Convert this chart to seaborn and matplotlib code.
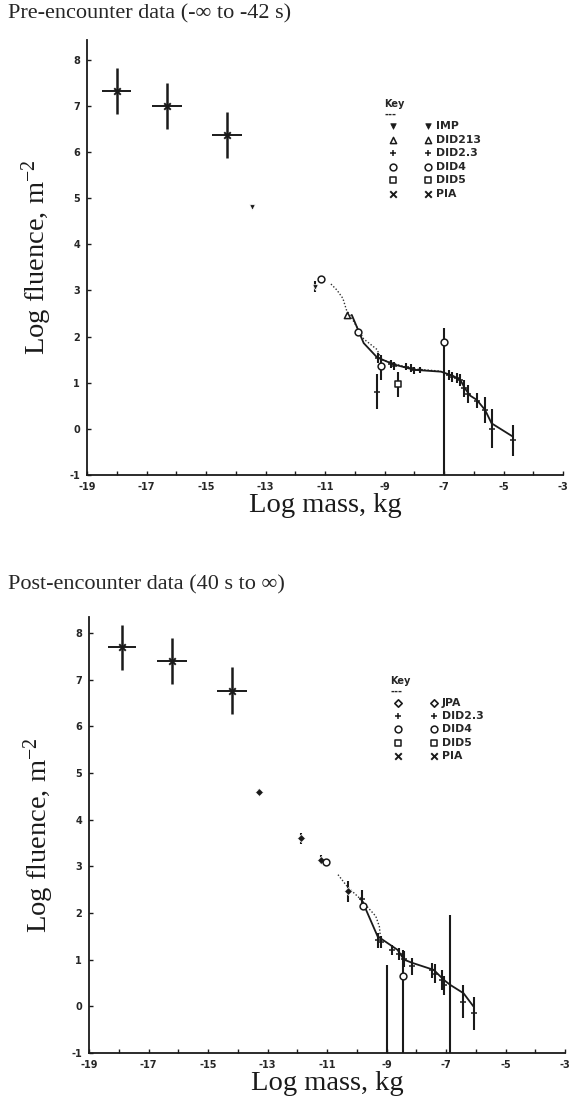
import matplotlib
matplotlib.use("Agg")
import matplotlib.pyplot as plt
import seaborn as sns

# ---------------- Pre-encounter data (top panel) ----------------
pre_pia_x = [-18.0, -16.3, -14.3]
pre_pia_y = [7.33, 7.00, 6.38]
pre_pia_xerr = [0.48, 0.50, 0.50]
pre_pia_yerr = [0.50, 0.50, 0.50]

pre_imp_x = [-13.45, -11.32]
pre_imp_y = [4.81, 3.08]
pre_imp_err = [0.0, 0.12]

pre_did213_x = [-10.25]
pre_did213_y = [2.47]

pre_did23_x = [-9.25, -9.23, -8.79, -8.68, -8.29, -8.12, -8.01, -7.79, -6.84,
               -6.73, -6.57, -6.46, -6.34, -6.18, -5.90, -5.62, -5.40, -4.68]
pre_did23_y = [0.80, 1.53, 1.40, 1.37, 1.35, 1.32, 1.27, 1.28, 1.17,
               1.13, 1.10, 1.05, 0.88, 0.75, 0.61, 0.41, 0.00, -0.25]
pre_did23_err = [0.38, 0.11, 0.09, 0.09, 0.07, 0.08, 0.08, 0.07, 0.11,
                 0.11, 0.11, 0.13, 0.18, 0.20, 0.16, 0.29, 0.42, 0.33]

pre_did4_x = [-11.12, -9.90, -9.12, -7.00]
pre_did4_y = [3.25, 2.10, 1.37, 1.89]
pre_did4_lo = [3.25, 2.10, 1.06, -1.0]
pre_did4_hi = [3.25, 2.10, 1.60, 2.18]

pre_did5_x = [-8.56]
pre_did5_y = [0.97]
pre_did5_err = [0.27]

pre_solid_x = [-10.10, -9.70, -9.25, -8.70, -8.00, -7.10, -6.70, -6.45,
               -6.30, -6.12, -5.90, -5.62, -5.40, -4.68]
pre_solid_y = [2.47, 1.86, 1.55, 1.40, 1.28, 1.24, 1.15, 1.06,
               0.88, 0.72, 0.63, 0.41, 0.12, -0.17]

pre_dot_x = [-10.80, -10.60, -10.40, -10.28, -10.10, -9.70, -9.25, -9.10,
             -8.50, -8.00, -7.10]
pre_dot_y = [3.14, 3.01, 2.83, 2.58, 2.40, 1.95, 1.72, 1.50,
             1.38, 1.30, 1.25]

# ---------------- Post-encounter data (bottom panel) ----------------
post_pia_x = [-17.9, -16.2, -14.2]
post_pia_y = [7.69, 7.39, 6.76]
post_pia_xerr = [0.47, 0.50, 0.50]
post_pia_yerr = [0.48, 0.49, 0.50]

post_jpa_x = [-13.3, -11.88, -11.20, -10.30]
post_jpa_y = [4.60, 3.60, 3.14, 2.46]
post_jpa_err = [0.06, 0.12, 0.10, 0.23]

post_did23_x = [-9.83, -9.30, -9.19, -8.80, -8.58, -8.41, -8.13, -7.47,
                -7.36, -7.13, -7.08, -6.43, -6.06]
post_did23_y = [2.30, 1.41, 1.38, 1.21, 1.13, 1.02, 0.86, 0.77,
                0.70, 0.57, 0.45, 0.10, -0.15]
post_did23_err = [0.20, 0.16, 0.13, 0.11, 0.13, 0.17, 0.18, 0.16,
                  0.20, 0.21, 0.20, 0.36, 0.36]

post_did4_x = [-11.02, -9.80, -8.43]
post_did4_y = [3.10, 2.14, 0.65]
post_did4_lo = [3.10, 2.14, -1.0]
post_did4_hi = [3.10, 2.14, 1.21]

# upper bounds with no lower limit
post_lim_x = [-9.00, -6.86]
post_lim_hi = [0.89, 1.96]
post_lim_lo = [-1.0, -1.0]

post_solid_x = [-9.86, -9.30, -8.63, -8.41, -8.13, -7.41, -7.08, -6.86,
                -6.41, -6.08]
post_solid_y = [2.32, 1.50, 1.21, 1.00, 0.93, 0.78, 0.57, 0.46, 0.28, 0.00]

post_dot_x = [-10.63, -10.30, -9.91, -9.60, -9.36, -9.24, -9.20]
post_dot_y = [2.82, 2.55, 2.32, 2.10, 1.93, 1.71, 1.45]

x_ticks = list(range(-19, -2))
y_ticks = list(range(-1, 9))

pre_keys = ["IMP", "DID213", "DID2.3", "DID4", "DID5", "PIA"]
post_keys = ["JPA", "DID2.3", "DID4", "DID5", "PIA"]

sns.set_theme(style="ticks")
plt.rcParams["font.family"] = ["DejaVu Sans"]
plt.rcParams["mathtext.fontset"] = "custom"
plt.rcParams["mathtext.rm"] = "Liberation Serif"
plt.rcParams["mathtext.it"] = "Liberation Serif:italic"
plt.rcParams["mathtext.bf"] = "Liberation Serif:bold"

SERIF = ["Liberation Serif", "DejaVu Serif"]
NARROW = ["Liberation Sans Narrow", "DejaVu Sans"]

MARKERS = {
    "IMP": dict(marker="v", s=16, color="k", linewidth=0.5),
    "DID213": dict(marker="^", s=20, facecolor="white", edgecolor="k", linewidth=1.1),
    "DID2.3": dict(marker="+", s=22, color="k", linewidth=1.1),
    "DID4": dict(marker="o", s=24, facecolor="white", edgecolor="k", linewidth=1.1),
    "DID5": dict(marker="s", s=20, facecolor="white", edgecolor="k", linewidth=1.1),
    "PIA": dict(marker="x", s=22, color="k", linewidth=1.4),
    "JPA": dict(marker="D", s=16, color="k", linewidth=0.5),
}
KEY_MARKERS = {
    "JPA": dict(marker="D", s=14, facecolor="white", edgecolor="k", linewidth=1.2),
}


def style_axes(ax, ytop):
    ax.set_xlim(-19, -3)
    ax.set_ylim(-1, ytop)
    for side in ("top", "right"):
        ax.spines[side].set_visible(False)
    for side in ("left", "bottom"):
        ax.spines[side].set_linewidth(1.3)
        ax.spines[side].set_color("k")
    ax.set_xticks(x_ticks)
    ax.set_xticklabels([str(t) if t % 2 else "" for t in x_ticks])
    ax.set_yticks(y_ticks)
    ax.set_yticklabels([str(t) for t in y_ticks])
    ax.tick_params(axis="both", direction="in", length=3, width=1.0,
                   color="k", labelsize=7, pad=5)
    for lab in ax.get_xticklabels() + ax.get_yticklabels():
        lab.set_family(NARROW)
        lab.set_fontweight("bold")
    ax.set_xlabel("Log mass, kg", family=SERIF, fontsize=20.5, labelpad=1,
                  color="k")
    ax.set_ylabel("Log fluence, m$^{\\mathrm{-2}}$", family=SERIF,
                  fontsize=20.5, labelpad=11, color="k")
    ax.grid(False)


def draw_pia(ax, xs, ys, xerr, yerr):
    ax.errorbar(xs, ys, yerr=yerr, fmt="none", ecolor="k", elinewidth=1.8,
                capsize=0, zorder=4)
    ax.errorbar(xs, ys, xerr=xerr, fmt="none", ecolor="k", elinewidth=1.4,
                capsize=0, zorder=4)
    sns.scatterplot(x=xs, y=ys, ax=ax, zorder=5, **MARKERS["PIA"])


def draw_bars(ax, xs, ys, err, lw=1.5):
    ax.errorbar(xs, ys, yerr=err, fmt="none", ecolor="k", elinewidth=lw,
                capsize=0, zorder=3)


def draw_range(ax, xs, lo, hi, lw=1.5):
    ax.vlines(xs, lo, hi, colors="k", linewidth=lw, zorder=3, clip_on=False)


def draw_key(ax, keys, x0, y0, dy):
    tr = ax.transAxes
    ax.text(x0 - 0.005, y0 + 0.052, "Key", transform=tr, fontsize=7,
            fontweight="bold", family=NARROW, va="center", ha="left")
    ax.text(x0 - 0.005, y0 + 0.027, "---", transform=tr, fontsize=7,
            fontweight="bold", family=NARROW, va="center", ha="left")
    for i, k in enumerate(keys):
        yy = y0 - i * dy
        mk = KEY_MARKERS.get(k, MARKERS[k])
        ax.scatter([x0 + 0.012], [yy], transform=tr, clip_on=False, zorder=6, **mk)
        ax.scatter([x0 + 0.087], [yy], transform=tr, clip_on=False, zorder=6, **mk)
        ax.text(x0 + 0.103, yy, k, transform=tr, fontsize=7.8, fontweight="bold",
                family=NARROW, va="center", ha="left")


fig = plt.figure(figsize=(5.71, 11.02), dpi=100)

# ---- top panel ----
ax1 = fig.add_axes([87 / 571, 1 - 475 / 1102, 476 / 571, 435 / 1102])
style_axes(ax1, 8.43)

sns.lineplot(x=pre_dot_x, y=pre_dot_y, ax=ax1, sort=False, estimator=None,
             color="#333333", linewidth=1.0, linestyle=(0, (1, 1.4)))
sns.lineplot(x=pre_solid_x, y=pre_solid_y, ax=ax1, sort=False, estimator=None,
             color="k", linewidth=1.3)

draw_pia(ax1, pre_pia_x, pre_pia_y, pre_pia_xerr, pre_pia_yerr)
draw_bars(ax1, pre_imp_x, pre_imp_y, pre_imp_err)
sns.scatterplot(x=pre_imp_x, y=pre_imp_y, ax=ax1, zorder=5, **MARKERS["IMP"])
sns.scatterplot(x=pre_did213_x, y=pre_did213_y, ax=ax1, zorder=5, **MARKERS["DID213"])
draw_bars(ax1, pre_did23_x, pre_did23_y, pre_did23_err)
sns.scatterplot(x=pre_did23_x, y=pre_did23_y, ax=ax1, zorder=5, **MARKERS["DID2.3"])
draw_range(ax1, pre_did4_x, pre_did4_lo, pre_did4_hi)
sns.scatterplot(x=pre_did4_x, y=pre_did4_y, ax=ax1, zorder=5, **MARKERS["DID4"])
draw_bars(ax1, pre_did5_x, pre_did5_y, pre_did5_err)
sns.scatterplot(x=pre_did5_x, y=pre_did5_y, ax=ax1, zorder=5, **MARKERS["DID5"])

draw_key(ax1, pre_keys, 0.63, 0.802, 0.0312)

# ---- bottom panel ----
ax2 = fig.add_axes([89 / 571, 1 - 1053 / 1102, 476 / 571, 436 / 1102])
style_axes(ax2, 8.34)

sns.lineplot(x=post_dot_x, y=post_dot_y, ax=ax2, sort=False, estimator=None,
             color="#333333", linewidth=1.0, linestyle=(0, (1, 1.4)))
sns.lineplot(x=post_solid_x, y=post_solid_y, ax=ax2, sort=False, estimator=None,
             color="k", linewidth=1.3)

draw_pia(ax2, post_pia_x, post_pia_y, post_pia_xerr, post_pia_yerr)
draw_bars(ax2, post_jpa_x, post_jpa_y, post_jpa_err)
sns.scatterplot(x=post_jpa_x, y=post_jpa_y, ax=ax2, zorder=5, **MARKERS["JPA"])
draw_bars(ax2, post_did23_x, post_did23_y, post_did23_err)
sns.scatterplot(x=post_did23_x, y=post_did23_y, ax=ax2, zorder=5, **MARKERS["DID2.3"])
draw_range(ax2, post_did4_x, post_did4_lo, post_did4_hi)
sns.scatterplot(x=post_did4_x, y=post_did4_y, ax=ax2, zorder=5, **MARKERS["DID4"])
draw_range(ax2, post_lim_x, post_lim_lo, post_lim_hi)

draw_key(ax2, post_keys, 0.638, 0.802, 0.030)

fig.text(8 / 571, 1 - 14 / 1102, "Pre-encounter data (-\u221e to -42 s)",
         family=SERIF, fontsize=16, va="center", ha="left")
fig.text(8 / 571, 1 - 585 / 1102, "Post-encounter data (40 s to \u221e)",
         family=SERIF, fontsize=16, va="center", ha="left")

fig.savefig("out.png", dpi=100, facecolor="white")
